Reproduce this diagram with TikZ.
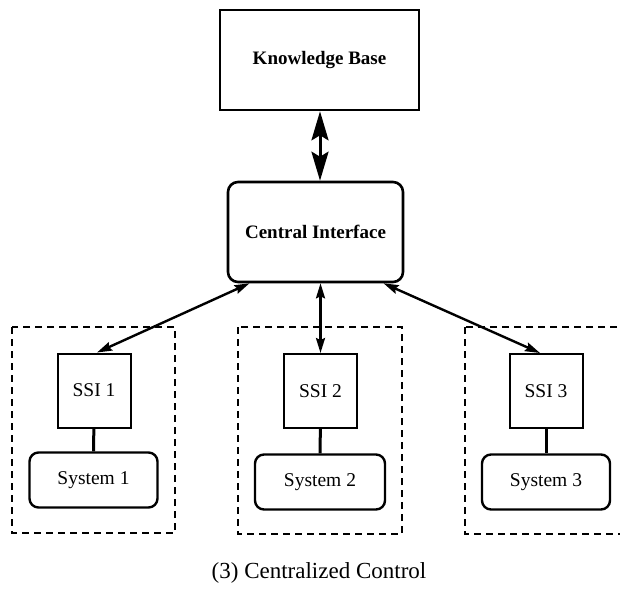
\documentclass[tikz,border=0pt]{standalone}
\usepackage{fontspec}
\setmainfont{Liberation Serif}
\usetikzlibrary{arrows.meta}
\begin{document}
\begin{tikzpicture}[x=1pt,y=-1pt,
  txt/.style={font=\fontsize{19.5}{23}\selectfont},
  bigbox/.style={draw, line width=2.6pt, inner sep=0pt, txt},
  ssibox/.style={draw, line width=2pt, inner sep=0pt, minimum width=73pt, minimum height=74pt, txt},
  sysbox/.style={draw, line width=2.4pt, rounded corners=9pt, inner sep=0pt, minimum width=128pt, minimum height=55pt, txt},
  group/.style={draw, line width=2.4pt, dash pattern=on 7pt off 5pt},
  heavy/.style={line width=3pt, {Stealth[length=29pt,width=17pt,inset=5pt]}-{Stealth[length=29pt,width=17pt,inset=5pt]}},
  link/.style={line width=2.4pt, {Stealth[length=15pt,width=9pt,inset=2pt]}-{Stealth[length=15pt,width=9pt,inset=2pt]}},
  tie/.style={line width=3pt}]
\clip (0,0) rectangle (620,605);
\useasboundingbox (0,0) rectangle (620,605);

% knowledge base and central interface
\node[bigbox, minimum width=199pt, minimum height=100pt, font=\fontsize{19}{23}\selectfont\bfseries] (kb) at (319.5,60) {Knowledge Base};
\node[bigbox, rounded corners=10pt, minimum width=175pt, minimum height=100pt, font=\fontsize{19}{23}\selectfont\bfseries] (ci) at (315.5,232) {Central Interface};

% subsystem groups
\draw[group] (12,327) rectangle (175,533);
\draw[group] (238,327) rectangle (402,534);
\draw[group] (465,327) rectangle (640,534);

% subsystem interfaces
\node[ssibox] (s1) at (94,390.5) {SSI 1};
\node[ssibox] (s2) at (320.5,391) {SSI 2};
\node[ssibox] (s3) at (546,391) {SSI 3};

% systems
\node[sysbox] (y1) at (93.5,480) {System 1};
\node[sysbox, minimum width=130pt] (y2) at (320,482) {System 2};
\node[sysbox] (y3) at (546,482) {System 3};

% connectors
\draw[heavy] (kb.south -| 320,0) -- (ci.north -| 320,0);
\draw[link] ([xshift=-66pt]ci.south) -- ([xshift=3pt]s1.north);
\draw[link] (ci.south -| s2.north) -- (s2.north);
\draw[link] ([xshift=68pt]ci.south) -- ([xshift=-6pt]s3.north);

\draw[tie] (s1) -- (y1);
\draw[tie] (s2) -- (y2);
\draw[tie] (s3) -- (y3);

% caption
\node[font=\fontsize{23}{27}\selectfont] (cap) at (319,573) {(3) Centralized Control};
\end{tikzpicture}
\end{document}
